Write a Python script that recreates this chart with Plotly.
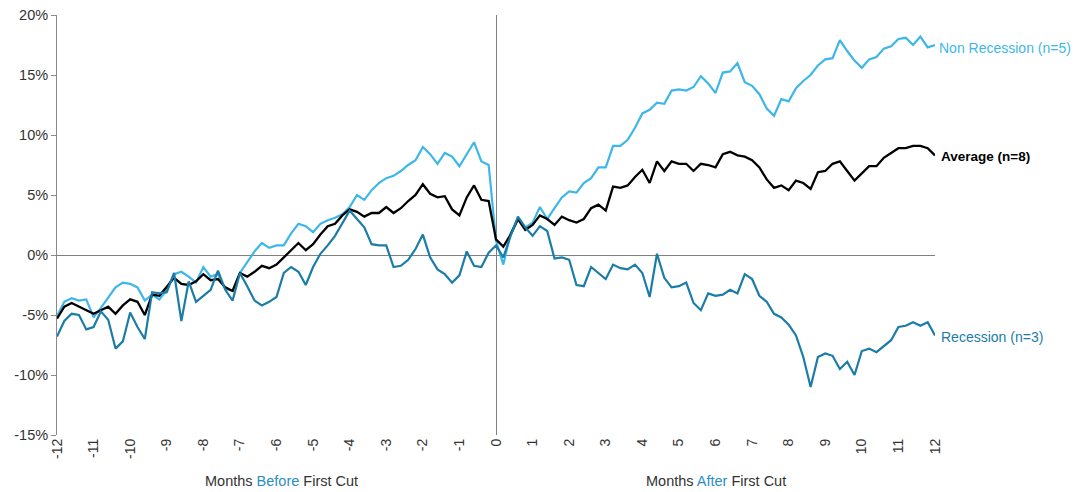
import numpy as np
import plotly.graph_objects as go

# sample grid: months relative to first cut (every 0.2 month)
months = np.round(np.arange(-12, 12.001, 0.2), 1)

non_recession = [
    -5.1, -3.9, -3.6, -3.8, -3.7, -5.2, -4.4, -3.5, -2.7, -2.3,
    -2.4, -2.7, -3.8, -3.3, -3.7, -2.9, -1.6, -1.4, -1.8, -2.3,
    -1.0, -1.8, -1.6, -2.8, -3.0, -1.5, -0.6, 0.3, 1.0, 0.6,
    0.8, 0.8, 1.8, 2.6, 2.4, 1.9, 2.6, 2.9, 3.1, 3.4,
    4.0, 5.0, 4.6, 5.4, 6.0, 6.4, 6.6, 7.0, 7.5, 7.9,
    9.0, 8.4, 7.6, 8.5, 8.2, 7.4, 8.4, 9.4, 7.8, 7.5,
    1.2, -0.8, 1.8, 3.0, 2.3, 2.7, 4.0, 3.0, 3.9, 4.8,
    5.3, 5.2, 6.0, 6.4, 7.3, 7.3, 9.1, 9.1, 9.6, 10.6,
    11.8, 12.1, 12.7, 12.6, 13.7, 13.8, 13.7, 14.0, 14.9, 14.3,
    13.5, 15.2, 15.3, 16.0, 14.4, 14.1, 13.4, 12.2, 11.6, 13.0,
    12.8, 13.9, 14.5, 15.0, 15.8, 16.3, 16.4, 17.9, 17.0, 16.2,
    15.6, 16.3, 16.5, 17.2, 17.4, 18.0, 18.1, 17.5, 18.2, 17.3,
    17.5,
]

average = [
    -5.3, -4.3, -4.0, -4.3, -4.6, -4.9, -4.6, -4.3, -4.9, -4.2,
    -3.7, -3.9, -5.0, -3.3, -3.4, -2.6, -1.9, -2.4, -2.5, -2.2,
    -1.6, -2.1, -2.0, -2.7, -3.0, -1.5, -1.8, -1.4, -0.9, -1.1,
    -0.8, -0.2, 0.4, 1.0, 0.4, 0.9, 1.7, 2.4, 2.6, 3.3,
    3.8, 3.6, 3.2, 3.5, 3.5, 4.0, 3.5, 3.9, 4.5, 5.0,
    5.9, 5.1, 4.8, 4.9, 3.8, 3.3, 4.8, 5.8, 4.6, 4.5,
    1.3, 0.7, 1.7, 3.0, 2.1, 2.5, 3.3, 3.0, 2.5, 3.2,
    2.9, 2.7, 3.0, 3.9, 4.2, 3.7, 5.7, 5.6, 5.8, 6.5,
    7.1, 6.0, 7.8, 7.0, 7.8, 7.6, 7.6, 7.0, 7.6, 7.5,
    7.3, 8.4, 8.6, 8.3, 8.2, 7.9, 7.3, 6.3, 5.6, 5.8,
    5.4, 6.2, 6.0, 5.5, 6.9, 7.0, 7.6, 7.8, 7.0, 6.2,
    6.8, 7.4, 7.4, 8.1, 8.5, 8.9, 8.9, 9.1, 9.1, 8.9,
    8.3,
]

recession = [
    -6.8, -5.5, -4.9, -5.0, -6.2, -6.0, -4.7, -5.4, -7.8, -7.2,
    -4.8, -6.0, -7.0, -3.1, -3.2, -3.1, -1.5, -5.5, -2.2, -3.9,
    -3.4, -2.9, -1.3, -2.9, -3.8, -1.5, -2.6, -3.8, -4.2, -3.9,
    -3.5, -1.5, -1.0, -1.4, -2.5, -1.0, 0.1, 0.8, 1.6, 2.7,
    3.7, 3.0, 2.3, 0.9, 0.8, 0.8, -1.0, -0.9, -0.4, 0.5,
    1.7, -0.2, -1.2, -1.6, -2.3, -1.7, 0.3, -0.9, -1.0, 0.2,
    0.8, -0.2, 1.6, 3.2, 2.3, 1.6, 2.4, 2.0, -0.3, -0.2,
    -0.4, -2.5, -2.6, -1.0, -1.5, -2.0, -0.8, -1.1, -1.2, -0.8,
    -1.5, -3.5, 0.1, -1.9, -2.7, -2.6, -2.3, -4.0, -4.6, -3.2,
    -3.4, -3.3, -2.9, -3.2, -1.6, -2.0, -3.4, -3.9, -4.9, -5.2,
    -5.8, -6.7, -8.5, -11.0, -8.5, -8.2, -8.4, -9.5, -8.9, -10.0,
    -8.0, -7.8, -8.1, -7.6, -7.1, -6.0, -5.9, -5.6, -5.9, -5.6,
    -6.7,
]

y_ticks = [-15, -10, -5, 0, 5, 10, 15, 20]
x_ticks = list(range(-12, 13))

C_NR = "#3DB7E9"
C_R = "#1B7CA8"
C_AVG = "#000000"
FONT = "Liberation Sans, Arial, sans-serif"
TXT = "#333333"

fig = go.Figure()
fig.add_trace(go.Scatter(x=months, y=non_recession, mode="lines",
                         line=dict(color=C_NR, width=2.2), name="Non Recession (n=5)"))
fig.add_trace(go.Scatter(x=months, y=average, mode="lines",
                         line=dict(color=C_AVG, width=2.3), name="Average (n=8)"))
fig.add_trace(go.Scatter(x=months, y=recession, mode="lines",
                         line=dict(color=C_R, width=2.2), name="Recession (n=3)"))

# the page body adds an 8px margin, so the figure is 8px smaller on each axis
fig.update_layout(
    width=1080, height=484,
    margin=dict(l=49, r=153, t=7, b=57, autoexpand=False),
    paper_bgcolor="white", plot_bgcolor="white",
    showlegend=False,
    font=dict(family=FONT, size=14, color=TXT),
)
fig.update_xaxes(
    range=[-12, 12], tickvals=x_ticks, ticktext=[str(v) for v in x_ticks],
    tickangle=-90, showgrid=False, showline=False, ticks="", automargin=False,
    ticklabeloverflow="allow",
    zeroline=True, zerolinecolor="#7f7f7f", zerolinewidth=1,
    tickfont=dict(family=FONT, size=14, color=TXT),
)
fig.update_yaxes(
    range=[-15, 20], tickvals=y_ticks, ticktext=[f"{v}%" for v in y_ticks],
    showgrid=False, showline=True, linecolor="#8a8a8a", linewidth=1,
    ticks="outside", ticklen=5, tickcolor="#8a8a8a", automargin=False,
    ticklabeloverflow="allow",
    zeroline=True, zerolinecolor="#7f7f7f", zerolinewidth=1,
    tickfont=dict(family=FONT, size=14.5, color=TXT),
)

# series labels at right end
fig.add_annotation(x=1, xref="paper", y=non_recession[-1] - 0.25, yref="y",
                   text="Non Recession (n=5)", showarrow=False, xanchor="left", xshift=2,
                   font=dict(family=FONT, size=14, color=C_NR))
fig.add_annotation(x=1, xref="paper", y=average[-1] - 0.1, yref="y",
                   text="<b>Average (n=8)</b>", showarrow=False, xanchor="left", xshift=4,
                   font=dict(family=FONT, size=13.5, color=C_AVG))
fig.add_annotation(x=1, xref="paper", y=recession[-1] - 0.1, yref="y",
                   text="Recession (n=3)", showarrow=False, xanchor="left", xshift=4,
                   font=dict(family=FONT, size=14, color=C_R))

# axis titles
fig.add_annotation(x=-5.85, xref="x", y=0, yref="paper", yshift=-46, yanchor="middle",
                   text="Months <span style='color:#2A8FC4'>Before</span> First Cut",
                   showarrow=False, font=dict(family=FONT, size=14.5, color=TXT))
fig.add_annotation(x=6.0, xref="x", y=0, yref="paper", yshift=-46, yanchor="middle",
                   text="Months <span style='color:#2A8FC4'>After</span> First Cut",
                   showarrow=False, font=dict(family=FONT, size=14.5, color=TXT))

fig.write_html("out.html")
